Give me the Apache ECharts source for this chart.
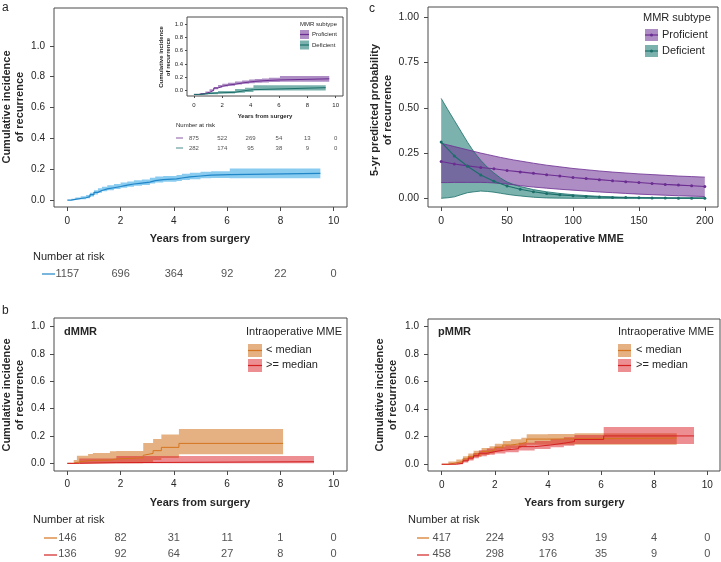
<!DOCTYPE html>
<html>
<head>
<meta charset="utf-8">
<title>Intraoperative MME and recurrence</title>
<script src="https://cdn.jsdelivr.net/npm/echarts@6/dist/echarts.min.js"></script>
<style>
  html, body { margin: 0; padding: 0; background: #fff; }
  #chart { width: 721px; height: 562px; }
</style>
</head>
<body>
<div id="chart"></div>
<script>
// ---- ticks ----
const yearTicks = [0, 2, 4, 6, 8, 10]
const probTicks = [0, 0.2, 0.4, 0.6, 0.8, 1.0]
const mmeTicks = [0, 50, 100, 150, 200]
const predTicks = [0, 0.25, 0.5, 0.75, 1.0]

// ---- panel a: whole cohort ----
const allTime = [0, 0.15, 0.3, 0.5, 0.7, 0.85, 1.0, 1.15, 1.3, 1.5, 1.75, 2.0, 2.25, 2.5, 2.8, 3.1, 3.3, 3.6, 4.1, 4.3, 4.6, 5.0, 5.4, 6.1, 9.5]
const allEst = [0, 0.005, 0.01, 0.015, 0.022, 0.035, 0.05, 0.062, 0.072, 0.08, 0.088, 0.097, 0.104, 0.11, 0.116, 0.126, 0.133, 0.137, 0.143, 0.15, 0.156, 0.162, 0.165, 0.173, 0.173]
const allLow = [0, 0.001, 0.003, 0.006, 0.012, 0.023, 0.036, 0.047, 0.057, 0.064, 0.072, 0.08, 0.087, 0.092, 0.098, 0.107, 0.114, 0.118, 0.123, 0.13, 0.135, 0.141, 0.143, 0.141, 0.141]
const allHigh = [0, 0.009, 0.017, 0.024, 0.032, 0.047, 0.064, 0.077, 0.087, 0.096, 0.104, 0.114, 0.121, 0.128, 0.134, 0.145, 0.152, 0.156, 0.163, 0.17, 0.177, 0.183, 0.187, 0.205, 0.205]
const allAtRisk = [1157, 696, 364, 92, 22, 0]

// ---- panel a inset: by MMR subtype ----
const profTime = [0, 0.4, 0.8, 1.1, 1.4, 1.7, 2.0, 2.4, 2.9, 3.4, 3.9, 4.3, 4.8, 5.3, 6.07, 9.55]
const profEst = [-0.062, -0.05, -0.03, 0.0, 0.035, 0.06, 0.078, 0.092, 0.11, 0.125, 0.135, 0.143, 0.15, 0.157, 0.174, 0.174]
const profLow = [-0.062, -0.058, -0.042, -0.015, 0.018, 0.04, 0.056, 0.068, 0.088, 0.1, 0.108, 0.114, 0.12, 0.125, 0.128, 0.128]
const profHigh = [-0.062, -0.042, -0.018, 0.015, 0.052, 0.08, 0.1, 0.116, 0.132, 0.15, 0.162, 0.172, 0.18, 0.189, 0.215, 0.215]
const defTime = [0, 0.5, 1.0, 1.7, 2.9, 3.6, 4.2, 9.3]
const defEst = [-0.062, -0.05, -0.04, -0.03, -0.005, 0.01, 0.04, 0.04]
const defLow = [-0.062, -0.062, -0.058, -0.05, -0.035, -0.025, -0.002, -0.002]
const defHigh = [-0.062, -0.04, -0.025, -0.012, 0.02, 0.038, 0.078, 0.078]
const profAtRisk = [875, 522, 269, 54, 13, 0]
const defAtRisk = [282, 174, 95, 38, 9, 0]

// ---- panel c: 5-yr predicted probability vs MME ----
const mmeDose = [0, 10, 20, 30, 40, 50, 60, 70, 80, 90, 100, 110, 120, 130, 140, 150, 160, 170, 180, 190, 200]
const profPred = [0.203, 0.19, 0.179, 0.17, 0.163, 0.154, 0.146, 0.138, 0.13, 0.123, 0.115, 0.109, 0.103, 0.097, 0.092, 0.087, 0.082, 0.077, 0.073, 0.069, 0.065]
const defPred = [0.311, 0.234, 0.177, 0.129, 0.094, 0.068, 0.05, 0.036, 0.026, 0.019, 0.014, 0.01, 0.007, 0.005, 0.004, 0.003, 0.002, 0.002, 0.001, 0.001, 0.001]
const bandDose = [0, 5, 10, 15, 20, 25, 30, 35, 40, 45, 50, 55, 60, 70, 80, 90, 100, 110, 120, 130, 140, 150, 160, 170, 180, 190, 200]
const profPredLow = [0.087, 0.087, 0.088, 0.088, 0.088, 0.088, 0.088, 0.087, 0.085, 0.082, 0.079, 0.075, 0.07, 0.062, 0.056, 0.05, 0.045, 0.04, 0.035, 0.031, 0.027, 0.023, 0.02, 0.017, 0.014, 0.012, 0.01]
const profPredHigh = [0.304, 0.295, 0.286, 0.277, 0.268, 0.259, 0.25, 0.242, 0.234, 0.226, 0.219, 0.212, 0.206, 0.194, 0.183, 0.174, 0.165, 0.158, 0.151, 0.145, 0.14, 0.135, 0.131, 0.127, 0.123, 0.12, 0.117]
const defPredLow = [0, 0.003, 0.008, 0.02, 0.031, 0.036, 0.04, 0.038, 0.034, 0.028, 0.022, 0.017, 0.013, 0.006, 0.002, 0.001, 0, 0, 0, 0, 0, 0, 0, 0, 0, 0, 0]
const defPredHigh = [0.552, 0.49, 0.43, 0.37, 0.31, 0.255, 0.21, 0.172, 0.14, 0.112, 0.09, 0.076, 0.065, 0.048, 0.036, 0.027, 0.02, 0.015, 0.011, 0.008, 0.006, 0.005, 0.004, 0.003, 0.002, 0.002, 0.001]

// ---- panel b: dMMR ----
const dLtTime = [0, 0.24, 0.36, 0.78, 0.96, 1.6, 1.84, 2.85, 2.92, 3.22, 3.53, 4.19, 8.1]
const dLtEst = [0, 0.007, 0.02, 0.022, 0.024, 0.032, 0.041, 0.059, 0.073, 0.093, 0.117, 0.146, 0.146]
const dLtLow = [0, 0, 0, 0, 0, 0, 0, 0.005, 0.01, 0.025, 0.04, 0.066, 0.066]
const dLtHigh = [0, 0.024, 0.056, 0.068, 0.076, 0.088, 0.09, 0.149, 0.149, 0.178, 0.212, 0.251, 0.251]
const dGeTime = [0, 0.45, 1.84, 9.26]
const dGeEst = [0, 0.005, 0.012, 0.012]
const dGeLow = [0, 0, 0, 0]
const dGeHigh = [0, 0.035, 0.054, 0.054]
const dLtAtRisk = [146, 82, 31, 11, 1, 0]
const dGeAtRisk = [136, 92, 64, 27, 8, 0]

// ---- panel b: pMMR ----
const pLtTime = [0, 0.25, 0.55, 0.8, 1.0, 1.2, 1.5, 1.8, 2.0, 2.3, 2.6, 3.0, 3.2, 4.0, 5.0, 8.85]
const pLtEst = [0, 0.01, 0.02, 0.04, 0.056, 0.075, 0.093, 0.105, 0.122, 0.14, 0.15, 0.16, 0.183, 0.185, 0.19, 0.19]
const pLtLow = [0, 0, 0.006, 0.022, 0.035, 0.052, 0.068, 0.079, 0.094, 0.11, 0.119, 0.128, 0.142, 0.142, 0.142, 0.142]
const pLtHigh = [0, 0.02, 0.034, 0.058, 0.078, 0.098, 0.118, 0.131, 0.15, 0.17, 0.181, 0.192, 0.218, 0.22, 0.225, 0.225]
const pGeTime = [0, 0.55, 0.8, 1.0, 1.2, 1.4, 1.7, 2.0, 2.4, 2.9, 3.5, 4.1, 4.6, 5.0, 6.1, 9.5]
const pGeEst = [0, 0.007, 0.025, 0.045, 0.062, 0.08, 0.092, 0.104, 0.113, 0.128, 0.14, 0.153, 0.165, 0.18, 0.206, 0.206]
const pGeLow = [0, 0, 0.012, 0.028, 0.043, 0.058, 0.069, 0.079, 0.088, 0.1, 0.111, 0.123, 0.134, 0.147, 0.147, 0.147]
const pGeHigh = [0, 0.014, 0.038, 0.062, 0.081, 0.102, 0.115, 0.129, 0.138, 0.156, 0.169, 0.183, 0.196, 0.213, 0.27, 0.27]
const pLtAtRisk = [417, 224, 93, 19, 4, 0]
const pGeAtRisk = [458, 298, 176, 35, 9, 0]

// ---- look ----
const FONT = 'Liberation Sans, Arial, Helvetica, sans-serif'
const ink = '#262626'
const frame = '#4a4a4a'
const blue = { line: '#1f86c8', band: 'rgba(60,170,230,0.6)' }
const purple = { line: '#6b2d91', band: 'rgba(110,50,150,0.56)' }
const teal = { line: '#1b6f6a', band: 'rgba(27,122,114,0.58)' }
const orange = { line: '#d4751f', band: 'rgba(210,120,40,0.58)' }
const red = { line: '#d42020', band: 'rgba(220,30,40,0.5)' }

const rows = (xs, ys) => xs.map((x, i) => [x, ys[i]])

// confidence band drawn as one polygon through the axis scales
function band(gi, xs, lo, hi, color, step) {
  const data = xs.map((x, i) => [x, lo[i], hi[i]])
  return {
    type: 'custom', xAxisIndex: gi, yAxisIndex: gi, silent: true, z: 1,
    data, encode: { x: 0, y: [1, 2] },
    renderItem(params, api) {
      if (params.dataIndex !== 0) return null
      const top = [], bottom = []
      data.forEach((d, i) => {
        top.push(api.coord([d[0], d[2]]))
        bottom.push(api.coord([d[0], d[1]]))
        if (step && i < data.length - 1) {
          top.push(api.coord([data[i + 1][0], d[2]]))
          bottom.push(api.coord([data[i + 1][0], d[1]]))
        }
      })
      return {
        type: 'polygon',
        shape: { points: top.concat(bottom.reverse()) },
        style: { fill: color }
      }
    }
  }
}

function curve(gi, xs, ys, color, step, width) {
  return {
    type: 'line', xAxisIndex: gi, yAxisIndex: gi, data: rows(xs, ys), step,
    symbol: 'none', silent: true, lineStyle: { color, width: width || 1.2 }, z: 3
  }
}

function riskRow(gi, row, counts, size) {
  return {
    type: 'scatter', xAxisIndex: gi, yAxisIndex: gi, silent: true,
    data: yearTicks.map((t, i) => [t, row, counts[i]]),
    symbolSize: 1, itemStyle: { color: 'rgba(0,0,0,0)' },
    label: {
      show: true, position: 'inside', formatter: p => String(p.value[2]),
      color: ink, fontSize: size, fontFamily: FONT
    }
  }
}

function plotAxis(gi, min, max, ticks, fmt, size, margin, tickLen) {
  return {
    type: 'value', gridIndex: gi, min, max,
    axisLine: { show: false, onZero: false },
    splitLine: { show: false },
    axisTick: { show: true, customValues: ticks, length: tickLen, lineStyle: { color: frame, width: 1 } },
    axisLabel: { customValues: ticks, formatter: fmt, color: ink, fontSize: size, fontFamily: FONT, margin }
  }
}

function hiddenAxis(gi, min, max, inverse) {
  return { type: 'value', gridIndex: gi, min, max, inverse: !!inverse, show: false }
}

const box = (left, top, width, height) => ({
  left, top, width, height, show: true, borderColor: frame, borderWidth: 1, backgroundColor: '#fff'
})

const f1 = v => v.toFixed(1)
const f2 = v => v.toFixed(2)
const f0 = v => String(v)

const grids = [
  box(54, 8, 293, 199),     // 0 a
  box(187, 17, 156, 79),    // 1 inset
  box(428, 7, 290, 200),    // 2 c
  box(54, 318, 293, 153),   // 3 dMMR
  box(428, 319, 292, 152),  // 4 pMMR
  { left: 54, top: 265.5, width: 293, height: 17 },   // 5 risk a
  { left: 187, top: 133, width: 156, height: 20 },    // 6 risk inset
  { left: 54, top: 529.5, width: 293, height: 34 },   // 7 risk dMMR
  { left: 428, top: 529.5, width: 292, height: 34 }   // 8 risk pMMR
]

const xAxes = [
  plotAxis(0, -0.5, 10.5, yearTicks, f0, 10, 9, 4),
  plotAxis(1, -0.49, 10.52, yearTicks, f0, 6, 6, 2),
  plotAxis(2, -10, 210, mmeTicks, f0, 10.5, 9, 4),
  plotAxis(3, -0.5, 10.5, yearTicks, f0, 10, 8, 4),
  plotAxis(4, -0.516, 10.48, yearTicks, f0, 10, 9, 4),
  hiddenAxis(5, -0.5, 10.5),
  hiddenAxis(6, -0.49, 10.52),
  hiddenAxis(7, -0.5, 10.5),
  hiddenAxis(8, -0.516, 10.48)
]

const yAxes = [
  plotAxis(0, -0.045, 1.245, probTicks, f1, 10, 9, 4),
  plotAxis(1, -0.086, 1.11, probTicks, f1, 6, 4, 2),
  plotAxis(2, -0.048, 1.057, predTicks, f2, 10.5, 9, 4),
  plotAxis(3, -0.056, 1.064, probTicks, f1, 10, 9, 4),
  plotAxis(4, -0.049, 1.056, probTicks, f1, 10, 9, 4),
  hiddenAxis(5, -0.5, 0.5, true),
  hiddenAxis(6, -0.5, 1.5, true),
  hiddenAxis(7, -0.5, 1.5, true),
  hiddenAxis(8, -0.5, 1.5, true)
]

const series = [
  // a
  band(0, allTime, allLow, allHigh, blue.band, true),
  curve(0, allTime, allEst, blue.line, 'end'),
  // inset
  band(1, profTime, profLow, profHigh, purple.band, true),
  band(1, defTime, defLow, defHigh, teal.band, true),
  curve(1, profTime, profEst, purple.line, 'end', 1),
  curve(1, defTime, defEst, teal.line, 'end', 1),
  // c
  band(2, bandDose, defPredLow, defPredHigh, teal.band, false),
  band(2, bandDose, profPredLow, profPredHigh, purple.band, false),
  Object.assign(curve(2, bandDose, defPredHigh, teal.line, false, 0.8), { z: 2 }),
  Object.assign(curve(2, bandDose, defPredLow, teal.line, false, 0.8), { z: 2 }),
  Object.assign(curve(2, bandDose, profPredHigh, purple.line, false, 0.8), { z: 2 }),
  Object.assign(curve(2, bandDose, profPredLow, purple.line, false, 0.8), { z: 2 }),
  Object.assign(curve(2, mmeDose, profPred, purple.line, false, 1.1), { symbol: 'circle', symbolSize: 3, showSymbol: true, itemStyle: { color: purple.line } }),
  Object.assign(curve(2, mmeDose, defPred, teal.line, false, 1.1), { symbol: 'circle', symbolSize: 3, showSymbol: true, itemStyle: { color: teal.line } }),
  // dMMR
  band(3, dLtTime, dLtLow, dLtHigh, orange.band, true),
  curve(3, dLtTime, dLtEst, orange.line, 'end', 1),
  band(3, dGeTime, dGeLow, dGeHigh, red.band, true),
  curve(3, dGeTime, dGeEst, red.line, 'end', 1),
  // pMMR
  band(4, pLtTime, pLtLow, pLtHigh, orange.band, true),
  curve(4, pLtTime, pLtEst, orange.line, 'end', 1),
  band(4, pGeTime, pGeLow, pGeHigh, red.band, true),
  curve(4, pGeTime, pGeEst, red.line, 'end', 1),
  // risk tables
  riskRow(5, 0, allAtRisk, 11),
  riskRow(6, 0, profAtRisk, 6), riskRow(6, 1, defAtRisk, 6),
  riskRow(7, 0, dLtAtRisk, 11), riskRow(7, 1, dGeAtRisk, 11),
  riskRow(8, 0, pLtAtRisk, 11), riskRow(8, 1, pGeAtRisk, 11)
]

// ---- annotations (text, legends, risk-table keys) ----
function text(str, x, y, opts) {
  opts = opts || {}
  return {
    type: 'text', x, y, rotation: opts.rot || 0, z: 10,
    style: {
      text: str, fill: ink, fontFamily: FONT, fontSize: opts.size || 11,
      fontWeight: opts.bold ? 'bold' : 'normal', align: opts.align || 'left',
      verticalAlign: 'middle', lineHeight: opts.lh || 13
    }
  }
}
function seg(x1, x2, y, color, w) {
  return { type: 'line', z: 10, shape: { x1, y1: y, x2, y2: y }, style: { stroke: color, lineWidth: w || 1.2 } }
}
function key(x, y, w, h, col, dot) {
  const out = [
    { type: 'rect', z: 10, shape: { x, y, width: w, height: h }, style: { fill: col.band } },
    seg(x, x + w, y + h / 2, col.line, 1.2)
  ]
  if (dot) out.push({ type: 'circle', z: 11, shape: { cx: x + w / 2, cy: y + h / 2, r: 1.5 }, style: { fill: col.line } })
  return out
}

const graphics = [].concat(
  [
    text('a', 2, 8, { size: 12 }),
    text('c', 369, 9, { size: 12 }),
    text('b', 2, 311, { size: 12 }),
    text('Cumulative incidence\nof recurrence', 13.5, 107, { bold: true, align: 'center', rot: Math.PI / 2 }),
    text('5-yr predicted probability\nof recurrence', 381.5, 110, { bold: true, align: 'center', rot: Math.PI / 2 }),
    text('Cumulative incidence\nof recurrence', 13.5, 395, { bold: true, align: 'center', rot: Math.PI / 2 }),
    text('Cumulative incidence\nof recurrence', 386.5, 395, { bold: true, align: 'center', rot: Math.PI / 2 }),
    text('Cumulative incidence\nof recurrence', 164.5, 57, { bold: true, align: 'center', rot: Math.PI / 2, size: 6, lh: 7 }),
    text('Years from surgery', 200, 239, { bold: true, align: 'center' }),
    text('Intraoperative MME', 573, 239, { bold: true, align: 'center' }),
    text('Years from surgery', 200, 503, { bold: true, align: 'center' }),
    text('Years from surgery', 574.5, 503, { bold: true, align: 'center' }),
    text('Years from surgery', 265, 116, { bold: true, align: 'center', size: 6 }),
    text('Number at risk', 33, 257),
    text('Number at risk', 176, 125, { size: 6 }),
    text('Number at risk', 33, 520),
    text('Number at risk', 408, 520),
    text('dMMR', 64, 332, { bold: true }),
    text('pMMR', 438, 332, { bold: true }),
    // legends
    text('MMR subtype', 300, 24, { size: 6 }),
    text('Proficient', 312, 34.5, { size: 6 }),
    text('Deficient', 312, 45, { size: 6 }),
    text('MMR subtype', 643, 18),
    text('Proficient', 662, 35),
    text('Deficient', 662, 51),
    text('Intraoperative MME', 246, 332),
    text('< median', 266, 350),
    text('>= median', 266, 365),
    text('Intraoperative MME', 618, 332),
    text('< median', 636, 350),
    text('>= median', 636, 365),
    // risk-table keys
    seg(42, 55, 274, blue.line),
    seg(176, 183, 138, purple.line, 0.8),
    seg(176, 183, 148, teal.line, 0.8),
    seg(44, 57, 538, orange.line),
    seg(44, 57, 555, red.line),
    seg(417, 429, 538, orange.line),
    seg(417, 429, 555, red.line)
  ],
  key(300, 30, 9, 9, purple), key(300, 40.5, 9, 9, teal),
  key(645, 29, 13, 12, purple, true), key(645, 45, 13, 12, teal, true),
  key(248, 344, 14, 13, orange), key(248, 359, 14, 13, red),
  key(618, 344, 13, 13, orange), key(618, 359, 13, 13, red)
)

const chart = echarts.init(document.getElementById('chart'), null, { renderer: 'canvas' })
chart.setOption({
  animation: false,
  backgroundColor: '#fff',
  textStyle: { fontFamily: FONT },
  grid: grids,
  xAxis: xAxes,
  yAxis: yAxes,
  series,
  graphic: graphics
})
window.addEventListener('resize', () => chart.resize())
</script>
</body>
</html>
